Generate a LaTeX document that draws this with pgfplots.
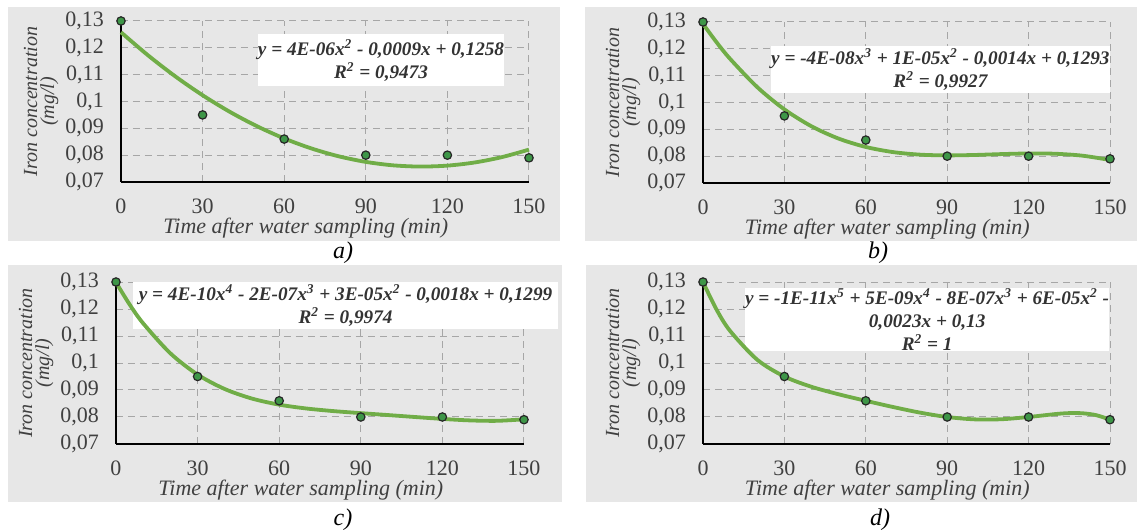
\documentclass[border=0pt]{standalone}
\usepackage{fontspec}
\IfFontExistsTF{LiberationSerif-Regular.ttf}{%
  \setmainfont{LiberationSerif-Regular.ttf}[
    BoldFont=LiberationSerif-Bold.ttf,
    ItalicFont=LiberationSerif-Italic.ttf,
    BoldItalicFont=LiberationSerif-BoldItalic.ttf]}{%
  \setmainfont{Liberation Serif}}
\usepackage{pgfplots}
\pgfplotsset{compat=1.18}
\definecolor{PanelGray}{RGB}{231,231,231}
\definecolor{TrendGreen}{RGB}{112,173,71}
\definecolor{PointGreen}{RGB}{62,150,72}
\definecolor{LabelGray}{RGB}{64,64,64}

\tikzset{
  eqbox/.style={fill=white, inner sep=0pt, align=center,
    font=\fontsize{9.6}{11.5}\selectfont\bfseries\itshape, text=black!80},
}

\pgfplotsset{
  panel/.style={
    scale only axis,
    clip=false,
    xmin=0, xmax=150, ymin=0.07, ymax=0.13,
    xtick={0,30,60,90,120,150},
    ytick={0.07,0.08,0.09,0.1,0.11,0.12,0.13},
    axis lines=left,
    axis line style={-, black, line width=0.9pt},
    major tick length=0pt,
    grid=major,
    grid style={dash pattern=on 3.5pt off 2.5pt, gray!70, line width=0.5pt},
    /pgf/number format/.cd, use comma, fixed, precision=2, assume math mode=true,
    /pgfplots/.cd,
    tick label style={font=\fontsize{11}{12}\selectfont, text=LabelGray},
    yticklabel style={xshift=-5pt},
    xticklabel style={yshift=-5pt},
    xlabel={\itshape Time after water sampling (min)},
    xlabel style={at={(axis description cs:0.453,-0.285)}, anchor=center,
      font=\fontsize{11}{13}\selectfont, text=LabelGray},
    ylabel={\itshape Iron concentration\\\itshape (mg/l)},
    ylabel style={at={(axis description cs:-0.196,0.5)}, anchor=center,
      align=center, font=\fontsize{10}{8.5}\selectfont, text=LabelGray},
  },
  trend/.style={TrendGreen, line width=1.9pt, smooth, no markers},
  pts/.style={only marks, mark=*, mark size=2.1pt,
    mark options={fill=PointGreen, draw=black!85, line width=0.6pt}},
}

\pgfplotstableread{
x y
0 0.130
30 0.095
60 0.086
90 0.080
120 0.080
150 0.079
}\measured

\pgfplotstableread{
x y
0 0.12579
10 0.11715
20 0.10933
30 0.10233
40 0.09615
50 0.09078
60 0.08623
70 0.08250
80 0.07958
90 0.07749
100 0.07621
110 0.07575
120 0.07610
130 0.07727
140 0.07926
150 0.08207
}\trendA

\pgfplotstableread{
x y
0 0.12929
5 0.12244
10 0.11625
20 0.10572
30 0.09743
40 0.09112
50 0.08654
60 0.08343
70 0.08152
80 0.08056
90 0.08029
100 0.08044
110 0.08077
120 0.08100
130 0.08089
140 0.08016
150 0.07857
}\trendB

\pgfplotstableread{
x y
0 0.12986
5 0.12169
10 0.11467
20 0.10357
30 0.09571
40 0.09035
50 0.08682
60 0.08457
70 0.08315
80 0.08218
90 0.08143
100 0.08072
110 0.07999
120 0.07929
130 0.07874
140 0.07858
150 0.07914
}\trendC

\pgfplotstableread{
x y
0 0.13000
5 0.11977
10 0.11187
20 0.10120
30 0.09500
40 0.09118
50 0.08841
60 0.08600
70 0.08371
80 0.08162
90 0.08000
100 0.07913
110 0.07917
120 0.08000
130 0.08110
135 0.08144
140 0.08137
145 0.08066
150 0.07900
}\trendD

\begin{document}
\begin{tikzpicture}
\useasboundingbox (0,0) rectangle (568.5pt,265pt);
\fill[PanelGray] (4pt,144.5pt) rectangle (280pt,261.5pt);
\fill[PanelGray] (292.5pt,144.5pt) rectangle (568.5pt,261.5pt);
\fill[PanelGray] (4pt,14pt) rectangle (281pt,132.5pt);
\fill[PanelGray] (293pt,14pt) rectangle (568.5pt,132.5pt);

% a) quadratic
\begin{axis}[panel, at={(60.5pt,174pt)}, width=204pt, height=80.5pt]
\node[eqbox, minimum width=122.5pt, minimum height=26pt] at (axis cs:95.6,0.1154)
  {y = 4E-06x\textsuperscript{2} - 0,0009x + 0,1258\\R\textsuperscript{2} = 0,9473};
\addplot[trend] table {\trendA};
\addplot[pts] table {\measured};
\end{axis}

% b) cubic
\begin{axis}[panel, at={(351.5pt,173.5pt)}, width=203.5pt, height=80.5pt]
\node[eqbox, minimum width=166.5pt, minimum height=23.5pt] at (axis cs:87.5,0.1123)
  {y = -4E-08x\textsuperscript{3} + 1E-05x\textsuperscript{2} - 0,0014x + 0,1293\\R\textsuperscript{2} = 0,9927};
\addplot[trend] table {\trendB};
\addplot[pts] table {\measured};
\end{axis}

% c) quartic
\begin{axis}[panel, at={(58pt,43pt)}, width=204pt, height=81pt]
\node[eqbox, minimum width=212.5pt, minimum height=23.5pt] at (axis cs:84.4,0.1213)
  {y = 4E-10x\textsuperscript{4} - 2E-07x\textsuperscript{3} + 3E-05x\textsuperscript{2} - 0,0018x + 0,1299\\R\textsuperscript{2} = 0,9974};
\addplot[trend] table {\trendC};
\addplot[pts] table {\measured};
\end{axis}

% d) quintic
\begin{axis}[panel, at={(351.5pt,43pt)}, width=203.5pt, height=81pt]
\node[eqbox, minimum width=175pt, minimum height=31.5pt] at (axis cs:82.6,0.1161)
  {y = -1E-11x\textsuperscript{5} + 5E-09x\textsuperscript{4} - 8E-07x\textsuperscript{3} + 6E-05x\textsuperscript{2} -\\0,0023x + 0,13\\R\textsuperscript{2} = 1};
\addplot[trend] table {\trendD};
\addplot[pts] table {\measured};
\end{axis}

\node[font=\fontsize{12}{13}\selectfont\itshape] at (171.5pt,138.5pt) {a)};
\node[font=\fontsize{12}{13}\selectfont\itshape] at (439pt,138.5pt) {b)};
\node[font=\fontsize{12}{13}\selectfont\itshape] at (171.5pt,5pt) {c)};
\node[font=\fontsize{12}{13}\selectfont\itshape] at (440pt,5pt) {d)};
\end{tikzpicture}
\end{document}
